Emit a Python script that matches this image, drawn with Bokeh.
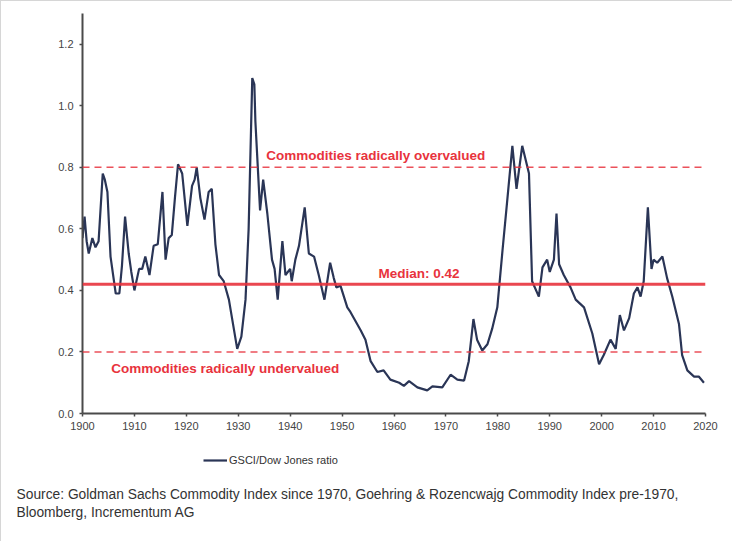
from bokeh.plotting import figure
from bokeh.layouts import column
from bokeh.models import Span, Label, Legend, LegendItem, Range1d, FixedTicker, CustomJSTickFormatter, Title
from bokeh.embed import file_html
from bokeh.resources import INLINE

years = [1900.0, 1900.4, 1900.8, 1901.2, 1901.9, 1902.5, 1903.1, 1903.9, 1904.3, 1904.8,
         1905.4, 1905.9, 1906.4, 1907.1, 1907.6, 1908.2, 1908.9, 1909.4, 1910.0, 1910.9,
         1911.5, 1912.1, 1912.9, 1913.7, 1914.5, 1915.4, 1916.0, 1916.6, 1917.2, 1917.8,
         1918.4, 1919.2, 1920.2, 1921.1, 1921.6, 1922.0, 1922.7, 1923.5, 1924.3, 1924.9,
         1925.6, 1926.3, 1927.2, 1928.2, 1928.8, 1929.8, 1930.6, 1931.4, 1932.0, 1932.7,
         1933.1, 1933.3, 1934.2, 1934.8, 1935.6, 1936.5, 1937.0, 1937.6, 1938.5, 1939.1,
         1940.0, 1940.3, 1941.0, 1941.7, 1942.8, 1943.6, 1944.6, 1945.5, 1946.6, 1947.7,
         1948.4, 1948.9, 1949.7, 1951.0, 1951.6, 1953.6, 1954.5, 1955.5, 1956.8, 1958.0,
         1959.3, 1961.0, 1961.9, 1962.9, 1964.5, 1966.4, 1967.4, 1969.3, 1970.9, 1972.2,
         1973.5, 1974.4, 1975.3, 1976.0, 1977.0, 1978.0, 1978.9, 1979.9, 1980.9, 1981.8,
         1982.8, 1983.6, 1984.7, 1986.0, 1986.6, 1987.9, 1988.6, 1989.5, 1990.0, 1990.8,
         1991.3, 1991.8, 1992.7, 1994.0, 1995.0, 1996.6, 1998.2, 1999.5, 2000.4, 2001.7,
         2002.7, 2003.5, 2004.3, 2005.3, 2006.2, 2006.9, 2007.5, 2008.1, 2008.9, 2009.6,
         2010.0, 2010.7, 2011.7, 2012.6, 2013.6, 2014.9, 2015.5, 2016.5, 2017.8, 2018.7,
         2019.7]
ratio = [0.57, 0.64, 0.56, 0.52, 0.57, 0.54, 0.56, 0.78, 0.76, 0.72,
         0.51, 0.45, 0.39, 0.39, 0.48, 0.64, 0.52, 0.46, 0.40, 0.47,
         0.47, 0.51, 0.45, 0.545, 0.55, 0.72, 0.50, 0.57, 0.58, 0.70,
         0.81, 0.78, 0.61, 0.74, 0.76, 0.80, 0.70, 0.63, 0.72, 0.73,
         0.55, 0.45, 0.43, 0.37, 0.31, 0.21, 0.25, 0.37, 0.60, 1.09,
         1.07, 0.95, 0.66, 0.76, 0.65, 0.50, 0.47, 0.37, 0.56, 0.45,
         0.47, 0.43, 0.50, 0.545, 0.67, 0.52, 0.51, 0.45, 0.37, 0.49,
         0.44, 0.41, 0.415, 0.345, 0.33, 0.27, 0.24, 0.17, 0.135, 0.14,
         0.11, 0.10, 0.09, 0.105, 0.085, 0.075, 0.088, 0.085, 0.126, 0.11,
         0.107, 0.17, 0.307, 0.24, 0.205, 0.225, 0.275, 0.345, 0.53, 0.69,
         0.87, 0.73, 0.87, 0.78, 0.43, 0.38, 0.475, 0.50, 0.46, 0.50,
         0.65, 0.485, 0.45, 0.41, 0.37, 0.345, 0.26, 0.16, 0.19, 0.24,
         0.21, 0.32, 0.27, 0.31, 0.39, 0.41, 0.38, 0.43, 0.67, 0.47,
         0.50, 0.49, 0.51, 0.44, 0.38, 0.29, 0.19, 0.14, 0.12, 0.12,
         0.10]

median = 0.42
overvalued = 0.8
undervalued = 0.2
x_ticks = [1900, 1910, 1920, 1930, 1940, 1950, 1960, 1970, 1980, 1990, 2000, 2010, 2020]
y_ticks = [0.0, 0.2, 0.4, 0.6, 0.8, 1.0, 1.2]
series_name = "GSCI/Dow Jones ratio"
source_lines = ["Source: Goldman Sachs Commodity Index since 1970, Goehring & Rozencwajg Commodity Index pre-1970,",
                "Bloomberg, Incrementum AG"]

RED = "#e8333d"
NAVY = "#2a3556"
FONT = "Liberation Sans"
W = 727

p = figure(width=W, height=430, output_backend="svg", toolbar_location=None,
           x_range=Range1d(1900, 2020), y_range=Range1d(0, 1.3),
           min_border_left=77, min_border_right=27, min_border_top=8, min_border_bottom=22)
p.outline_line_color = None
p.xgrid.visible = False
p.ygrid.visible = False

for ax in (p.xaxis[0], p.yaxis[0]):
    ax.axis_line_color = "#4a4a4a"
    ax.axis_line_width = 2
    ax.major_tick_line_color = "#4a4a4a"
    ax.major_tick_line_width = 1.5
    ax.major_tick_in = 0
    ax.major_tick_out = 3
    ax.minor_tick_line_color = None
    ax.major_label_text_font = FONT
    ax.major_label_text_font_size = "11px"
    ax.major_label_text_color = "#444444"
p.xaxis.major_label_standoff = 5
p.yaxis.major_label_standoff = 6

p.xaxis.ticker = FixedTicker(ticks=x_ticks)
p.yaxis.ticker = FixedTicker(ticks=y_ticks)
p.yaxis.formatter = CustomJSTickFormatter(code="return tick.toFixed(1);")

p.add_layout(Span(location=overvalued, dimension="width", line_color=RED, line_width=1.5,
                  line_dash="7 5", line_alpha=0.85))
p.add_layout(Span(location=undervalued, dimension="width", line_color=RED, line_width=1.5,
                  line_dash="7 5", line_alpha=0.85))
p.add_layout(Span(location=median, dimension="width", line_color=RED, line_width=3, line_alpha=0.9))

line = p.line(years, ratio, line_color=NAVY, line_width=2.2)

def red_label(x, y, text):
    p.add_layout(Label(x=x, y=y, text=text, text_align="center", text_baseline="middle",
                       text_color=RED, text_font=FONT, text_font_size="13.5px",
                       text_font_style="bold"))

red_label(1956.5, 0.837, "Commodities radically overvalued")
red_label(1964.8, 0.454, "Median: " + f"{median:.2f}")
red_label(1927.5, 0.146, "Commodities radically undervalued")

# lower panel: legend (in its frame) and the source note (titles below)
p2 = figure(width=W, height=106, output_backend="svg", toolbar_location=None,
            x_range=Range1d(0, 1), y_range=Range1d(0, 1),
            min_border_left=77, min_border_right=27, min_border_top=0, min_border_bottom=57,
            x_axis_type=None, y_axis_type=None)
p2.outline_line_color = None
p2.xgrid.visible = False
p2.ygrid.visible = False
sample = p2.line([float("nan")], [float("nan")], line_color=NAVY, line_width=2.2)
legend = Legend(items=[LegendItem(label=series_name, renderers=[sample])],
                location=(121, 14), padding=0, margin=0, spacing=0,
                border_line_color=None, background_fill_alpha=0,
                glyph_width=24, glyph_height=20, label_standoff=2,
                label_text_font=FONT, label_text_font_size="11px",
                label_text_color="#333333")
p2.add_layout(legend, "center")

for txt in source_lines:
    p2.add_layout(Title(text=txt, align="left", offset=-66, standoff=1,
                        text_color="#333333", text_font=FONT, text_font_size="13.8px",
                        text_font_style="normal"), "below")

layout = column(p, p2, spacing=0,
                styles={"border-top": "1px solid #d6d6d6", "border-left": "1px solid #d6d6d6",
                        "padding": "4px 0 0 4px"})

open("out.html", "w").write(file_html(layout, INLINE))
